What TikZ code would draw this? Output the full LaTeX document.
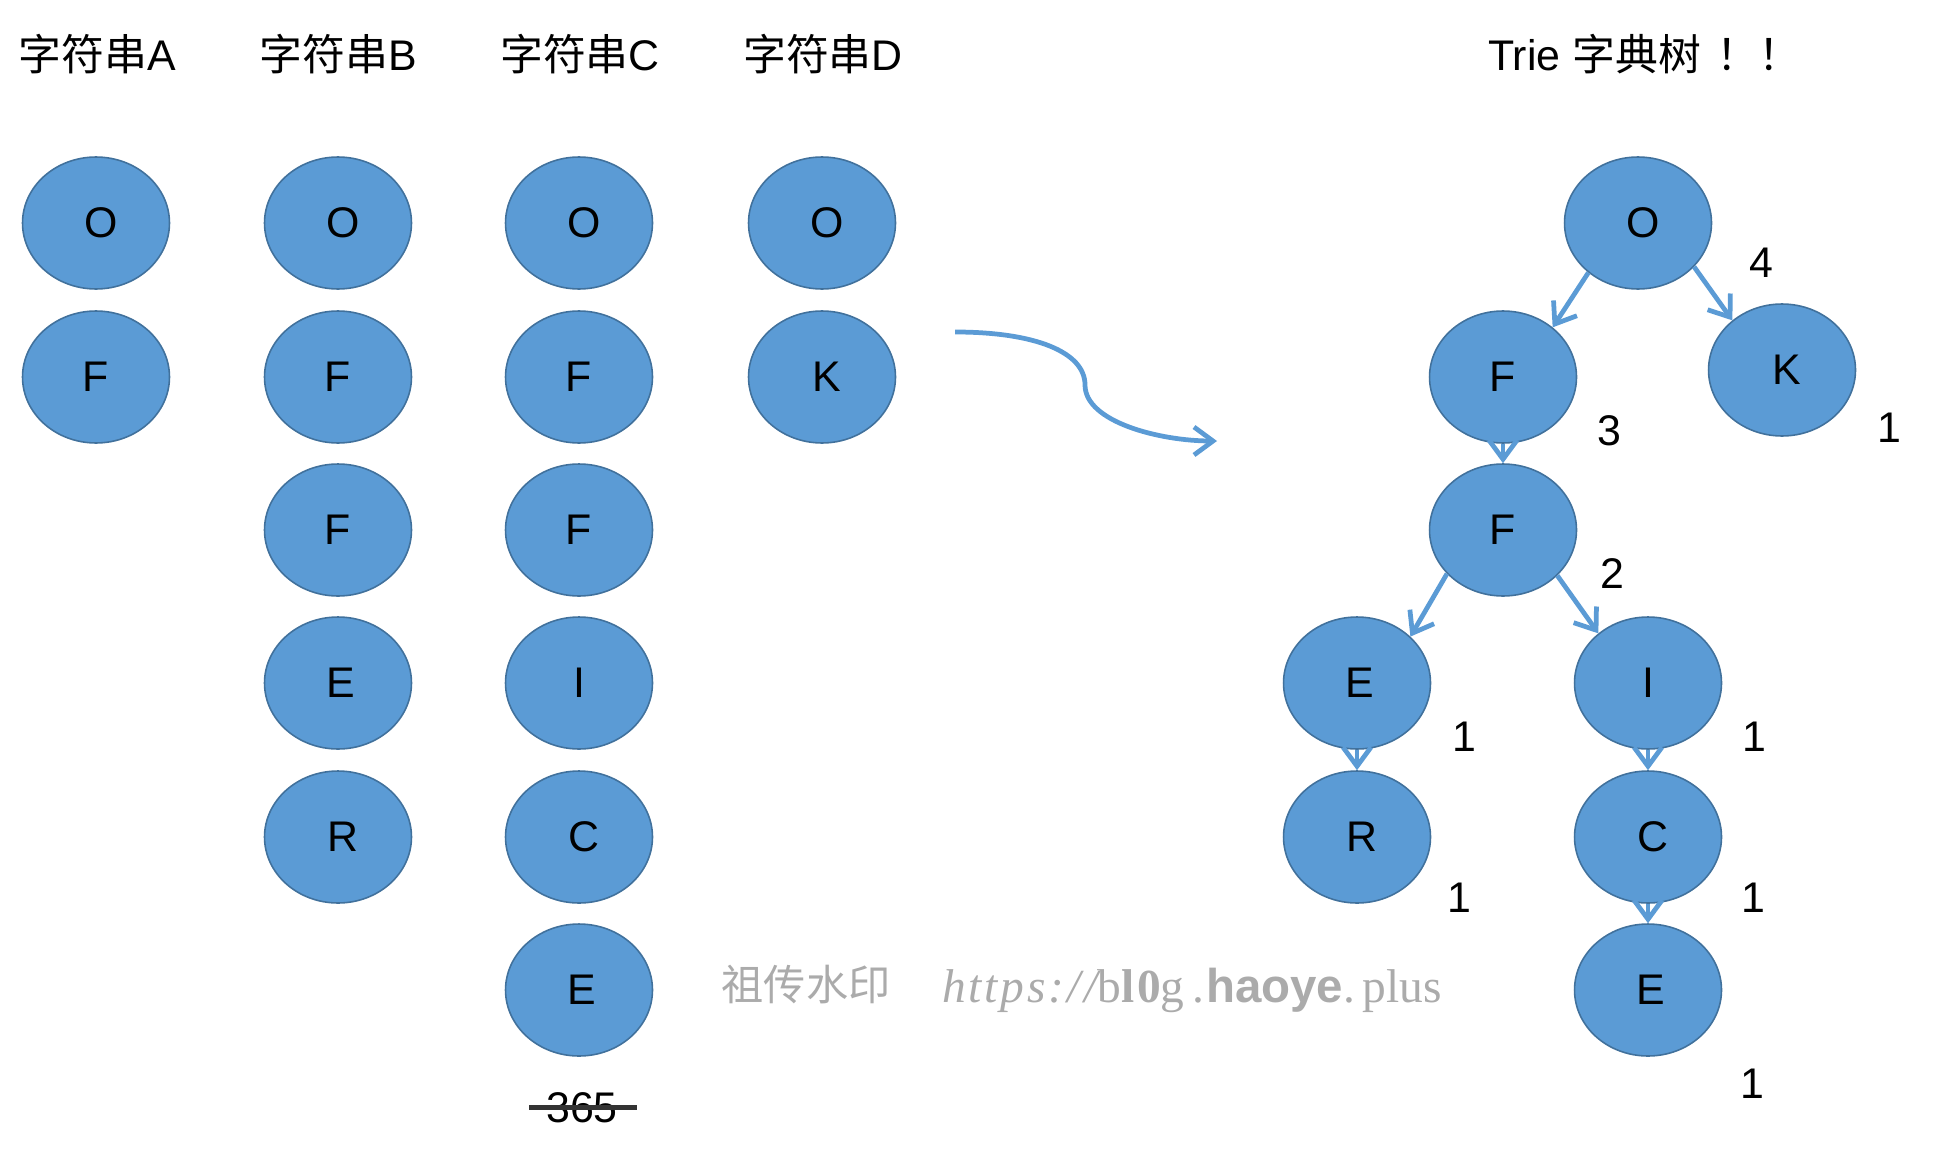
\documentclass[tikz,border=0pt]{standalone}
\usepackage{fontspec}
\setmainfont{Liberation Sans}
\newfontfamily\cjk{Noto Sans CJK SC}
\newfontfamily\wmserif{Liberation Serif}
\usetikzlibrary{arrows.meta,shapes.geometric}
\definecolor{nodeblue}{HTML}{5B9BD5}
\definecolor{nodeedge}{HTML}{41719C}
\definecolor{wmgray}{HTML}{ABABAB}
\definecolor{strikegray}{HTML}{333333}
\newcommand\Lo{\hspace{0.2cm}O}
\newcommand\Lr{\hspace{0.2cm}R}
\newcommand\Lc{\hspace{0.2cm}C}
\newcommand\Lk{\hspace{0.18cm}K}
\newcommand\Le{\hspace{0.12cm}E}
\newcommand\Li{I\hspace{0.25cm}}
\begin{document}
\begin{tikzpicture}[x=0.02cm,y=-0.02cm,
  bigtext/.style={font=\fontsize{24.4}{28}\selectfont, inner sep=0pt},
  letter/.style={ellipse, draw=nodeedge, line width=0.9pt, fill=nodeblue,
     minimum width=2.94cm, minimum height=2.64cm, inner sep=0pt,
     font=\fontsize{24.4}{28}\selectfont},
  conn/.style={draw=nodeblue, line width=0.095cm,
     -{Straight Barb[length=0.38cm,width=0.56cm]}},
  wm/.style={text=wmgray, inner sep=0pt}
]
\useasboundingbox (0,0) rectangle (1936,1149);

% column titles
\node[bigtext] (tA) at (97,54) {{\cjk 字符串}A};
\node[bigtext] (tB) at (338,54) {{\cjk 字符串}B};
\node[bigtext] (tC) at (580,54) {{\cjk 字符串}C};
\node[bigtext] (tD) at (823,54) {{\cjk 字符串}D};
\node[bigtext, anchor=west] (tT) at (1488,54) {Trie {\cjk 字典树}\hspace{0.3cm}{\cjk ！！}};

% column A
\node[letter] (a1) at (96,223) {\Lo};
\node[letter] (a2) at (96,377) {F};
% column B
\node[letter] (b1) at (338,223) {\Lo};
\node[letter] (b2) at (338,377) {F};
\node[letter] (b3) at (338,530) {F};
\node[letter] (b4) at (338,683) {\Le};
\node[letter] (b5) at (338,837) {\Lr};
% column C
\node[letter] (c1) at (579,223) {\Lo};
\node[letter] (c2) at (579,377) {F};
\node[letter] (c3) at (579,530) {F};
\node[letter] (c4) at (579,683) {\Li};
\node[letter] (c5) at (579,837) {\Lc};
\node[letter] (c6) at (579,990) {\Le};
% column D
\node[letter] (d1) at (822,223) {\Lo};
\node[letter] (d2) at (822,377) {\Lk};

% struck 365
\node[bigtext] (n365) at (582,1108) {365};
\coordinate (s1) at (529,1107);
\coordinate (s2) at (637,1107);
\draw[strikegray, line width=0.1cm] (s1) -- (s2);

% big curved arrow
\coordinate (cs) at (955,332);
\coordinate (cm) at (1085,385);
\coordinate (ce) at (1217,441);
\draw[conn] (cs) .. controls (1035,332) and (1085,352) .. (cm)
   .. controls (1085,422) and (1160,441) .. (ce);

% trie
\node[letter] (tO) at (1638,223) {\Lo};
\node[letter] (tF1) at (1503,377) {F};
\node[letter] (tK) at (1782,370) {\Lk};
\node[letter] (tF2) at (1503,530) {F};
\node[letter] (tE) at (1357,683) {\Le};
\node[letter] (tI) at (1648,683) {\Li};
\node[letter] (tR) at (1357,837) {\Lr};
\node[letter] (tC) at (1648,837) {\Lc};
\node[letter] (tE2) at (1648,990) {\Le};

\draw[conn] (tO.225) -- (tF1.45);
\draw[conn] (tO.-38) -- (tK.135);
\draw[conn] (tF1.south) -- (tF2.north);
\draw[conn] (tF2.218) -- (tE.41);
\draw[conn] (tF2.-40) -- (tI.135);
\draw[conn] (tE.south) -- (tR.north);
\draw[conn] (tI.south) -- (tC.north);
\draw[conn] (tC.south) -- (tE2.north);

% counts
\node[bigtext] (k4) at (1761,263) {4};
\node[bigtext] (k3) at (1609,431) {3};
\node[bigtext] (kK) at (1889,428) {1};
\node[bigtext] (k2) at (1612,574) {2};
\node[bigtext] (kE) at (1464,737) {1};
\node[bigtext] (kI) at (1754,737) {1};
\node[bigtext] (kR) at (1459,898) {1};
\node[bigtext] (kC) at (1753,898) {1};
\node[bigtext] (kE2) at (1752,1084) {1};

% watermark
\node[wm, font=\fontsize{24}{28}\selectfont] (wm1) at (806,985) {\cjk 祖传水印};
\node[wm, anchor=west, font=\fontsize{27}{30}\selectfont] (wm2) at (942,990)
  {{\wmserif\addfontfeatures{LetterSpace=6}\itshape https:/\kern2pt/}{\wmserif\addfontfeatures{LetterSpace=6}b\bfseries l0\mdseries g\,.}\kern1pt{\bfseries haoye}{\wmserif.\,plus}};
\end{tikzpicture}
\end{document}
